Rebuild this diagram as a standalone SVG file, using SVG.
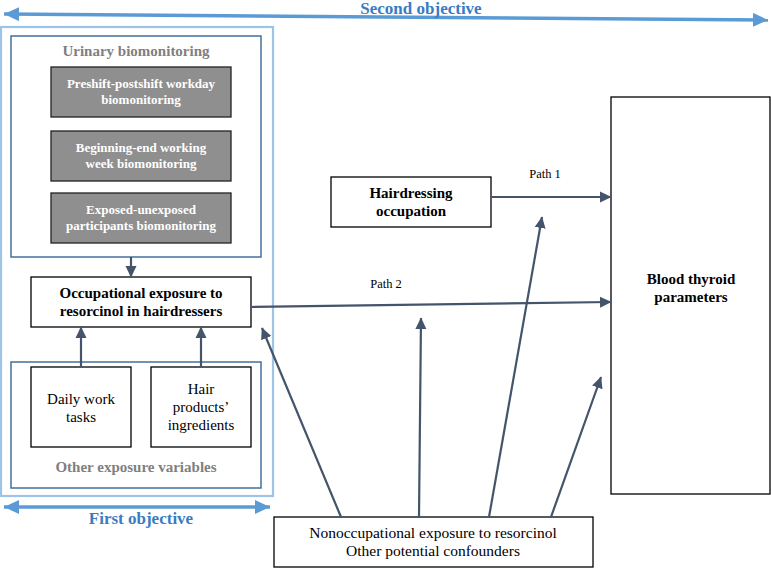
<svg xmlns="http://www.w3.org/2000/svg" width="771" height="568" viewBox="0 0 771 568" font-family="'Liberation Serif', 'DejaVu Serif', serif">
<style>
  text { font-family: "Liberation Serif", "DejaVu Serif", serif; }
  .box { fill: #ffffff; stroke: #000000; stroke-width: 1.3; }
  .grey { fill: #8f8f8f; stroke: #222222; stroke-width: 1.3; }
  .frame { fill: none; stroke: #41719c; stroke-width: 1.5; }
  .outer { fill: none; stroke: #9dc3e6; stroke-width: 2.2; }
  .conn { stroke: #44546a; stroke-width: 2.2; fill: none; marker-end: url(#ah); }
  .obj { stroke: #5b9bd5; stroke-width: 3.5; fill: none; marker-start: url(#ob); marker-end: url(#ob); }
  .b { font-weight: bold; }
  .t15 { font-size: 15px; }
  .wt { fill: #ffffff; font-size: 13px; font-weight: bold; }
  .gt { fill: #7f7f7f; font-size: 15px; font-weight: bold; }
  .bt { fill: #3a7cc2; font-size: 17px; font-weight: bold; }
</style>
<defs>
  <marker id="ah" markerUnits="userSpaceOnUse" markerWidth="12" markerHeight="12" refX="11" refY="6" orient="auto">
    <path d="M0,0.5 L11.5,6 L0,11.5 z" fill="#44546a"/>
  </marker>
  <marker id="ob" markerUnits="userSpaceOnUse" markerWidth="16" markerHeight="14" refX="15" refY="7" orient="auto-start-reverse">
    <path d="M0,0 L15,7 L0,14 z" fill="#5b9bd5"/>
  </marker>
</defs>
<rect width="771" height="568" fill="#ffffff"/>

<g id="objectives">
  <line class="obj" x1="4" y1="14" x2="768" y2="20"/>
  <text class="bt" x="421" y="14" text-anchor="middle">Second objective</text>
  <line class="obj" x1="4" y1="507" x2="270" y2="507"/>
  <text class="bt" x="141" y="524" text-anchor="middle">First objective</text>
</g>

<g id="first-objective-frame">
  <rect class="outer" x="1" y="27" width="272" height="469"/>
</g>

<g id="urinary-biomonitoring">
  <rect class="frame" x="11" y="36" width="250" height="221"/>
  <text class="gt" x="136" y="56" text-anchor="middle">Urinary biomonitoring</text>
</g>
<g id="preshift">
  <rect class="grey" x="51" y="67" width="180" height="50"/>
  <text class="wt" x="141" y="88" text-anchor="middle">Preshift-postshift workday</text>
  <text class="wt" x="141" y="104" text-anchor="middle">biomonitoring</text>
</g>
<g id="beginning-end">
  <rect class="grey" x="51" y="131" width="180" height="50"/>
  <text class="wt" x="141" y="152" text-anchor="middle">Beginning-end working</text>
  <text class="wt" x="141" y="168" text-anchor="middle">week biomonitoring</text>
</g>
<g id="exposed-unexposed">
  <rect class="grey" x="51" y="193" width="180" height="50"/>
  <text class="wt" x="141" y="214" text-anchor="middle">Exposed-unexposed</text>
  <text class="wt" x="141" y="230" text-anchor="middle">participants biomonitoring</text>
</g>

<g id="occupational-exposure">
  <rect class="box" x="31" y="277" width="220" height="50"/>
  <text class="b t15" x="141" y="298" text-anchor="middle">Occupational exposure to</text>
  <text class="b t15" x="141" y="316" text-anchor="middle">resorcinol in hairdressers</text>
</g>

<g id="other-exposure-variables">
  <rect class="frame" x="11" y="362" width="250" height="126"/>
  <text class="gt" x="136" y="472" text-anchor="middle">Other exposure variables</text>
</g>
<g id="daily-work-tasks">
  <rect class="box" x="31" y="367" width="100" height="80"/>
  <text class="t15" x="81" y="404" text-anchor="middle">Daily work</text>
  <text class="t15" x="81" y="422" text-anchor="middle">tasks</text>
</g>
<g id="hair-products">
  <rect class="box" x="151" y="367" width="100" height="80"/>
  <text class="t15" x="201" y="394" text-anchor="middle">Hair</text>
  <text class="t15" x="201" y="412" text-anchor="middle">products’</text>
  <text class="t15" x="201" y="430" text-anchor="middle">ingredients</text>
</g>

<g id="hairdressing-occupation">
  <rect class="box" x="331" y="177" width="160" height="50"/>
  <text class="b t15" x="411" y="198" text-anchor="middle">Hairdressing</text>
  <text class="b t15" x="411" y="216" text-anchor="middle">occupation</text>
</g>

<g id="blood-thyroid">
  <rect class="box" x="611" y="97" width="159" height="397"/>
  <text class="b t15" x="691" y="284" text-anchor="middle">Blood thyroid</text>
  <text class="b t15" x="691" y="302" text-anchor="middle">parameters</text>
</g>

<g id="confounders">
  <rect class="box" x="274" y="517" width="319" height="50"/>
  <text font-size="15.5" x="433" y="538" text-anchor="middle">Nonoccupational exposure to resorcinol</text>
  <text font-size="15.5" x="433" y="556" text-anchor="middle">Other potential confounders</text>
</g>

<g id="connectors">
  <line class="conn" x1="131" y1="257" x2="131" y2="277"/>
  <line class="conn" x1="81" y1="367" x2="81" y2="327"/>
  <line class="conn" x1="201" y1="367" x2="201" y2="327"/>
  <line class="conn" x1="491" y1="197" x2="611" y2="197"/>
  <line class="conn" x1="251" y1="307" x2="611" y2="302"/>
  <line class="conn" x1="341" y1="517" x2="262" y2="328"/>
  <line class="conn" x1="419" y1="517" x2="421" y2="318"/>
  <line class="conn" x1="489" y1="517" x2="542" y2="217"/>
  <line class="conn" x1="551" y1="517" x2="601" y2="377"/>
  <text font-size="12.5" x="545" y="178" text-anchor="middle">Path 1</text>
  <text font-size="12.5" x="386" y="288" text-anchor="middle">Path 2</text>
</g>
</svg>
